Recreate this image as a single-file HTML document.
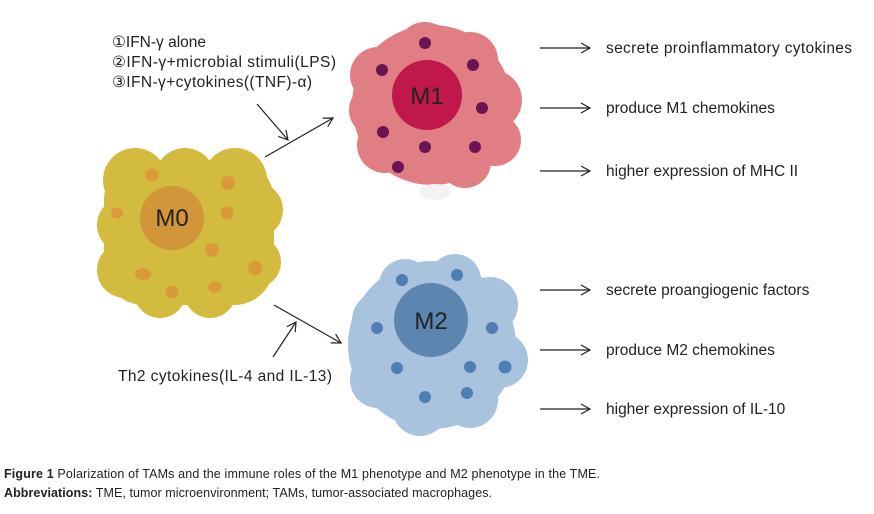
<!DOCTYPE html>
<html><head><meta charset="utf-8"><style>
body{margin:0;background:#fff;}
svg{display:block;font-family:"Liberation Sans",sans-serif;}
</style></head><body>
<svg width="874" height="514" viewBox="0 0 874 514" xmlns="http://www.w3.org/2000/svg">
<defs>
<marker id="a" markerWidth="12" markerHeight="12" refX="10" refY="6" orient="auto" markerUnits="userSpaceOnUse">
<path d="M1,1 L10,6 L1,11" fill="none" stroke="#222" stroke-width="1.2"/></marker>
</defs>
<!-- M0 -->
<g fill="#d3bb3f">
<rect x="104" y="160" width="170" height="145" rx="40"/>
<circle cx="135" cy="180" r="32"/><circle cx="185" cy="178" r="30"/><circle cx="235" cy="180" r="32"/>
<circle cx="255" cy="210" r="28"/><circle cx="125" cy="225" r="28"/><circle cx="125" cy="270" r="28"/>
<circle cx="255" cy="262" r="26"/><circle cx="160" cy="292" r="26"/><circle cx="210" cy="292" r="26"/>
</g>
<circle cx="172" cy="218" r="32" fill="#d1953a"/>
<g fill="#d99a3a">
<ellipse cx="152" cy="175" rx="7" ry="6.5"/><circle cx="228" cy="183" r="7"/><ellipse cx="117" cy="213" rx="6" ry="5.5"/>
<circle cx="227" cy="213" r="6.5"/><circle cx="212" cy="250" r="7"/><ellipse cx="143" cy="274" rx="8" ry="6"/>
<circle cx="255" cy="268" r="7"/><circle cx="172" cy="292" r="6.5"/><ellipse cx="215" cy="287" rx="7" ry="5.5"/>
</g>
<text x="172" y="226" font-size="24" text-anchor="middle" fill="#222">M0</text>
<!-- M1 -->
<g fill="#e07e83">
<circle cx="432" cy="105" r="80"/><circle cx="378" cy="75" r="28"/><circle cx="425" cy="50" r="28"/>
<circle cx="470" cy="60" r="28"/><circle cx="492" cy="100" r="30"/><circle cx="495" cy="140" r="26"/>
<circle cx="385" cy="145" r="28"/><circle cx="375" cy="110" r="26"/><circle cx="465" cy="162" r="26"/>
</g>
<ellipse cx="435" cy="192" rx="16" ry="8" fill="#f3f3f3"/>
<circle cx="427" cy="95" r="35" fill="#c0184b"/>
<g fill="#6c1352">
<circle cx="425" cy="43" r="6"/><circle cx="382" cy="70" r="6"/><circle cx="473" cy="65" r="6"/>
<circle cx="482" cy="108" r="6"/><circle cx="383" cy="132" r="6"/><circle cx="425" cy="147" r="6"/>
<circle cx="475" cy="147" r="6"/><circle cx="398" cy="167" r="6"/>
</g>
<text x="427" y="104" font-size="24" text-anchor="middle" fill="#222">M1</text>
<!-- M2 -->
<g fill="#a9c3de">
<circle cx="432" cy="345" r="84"/><circle cx="405" cy="285" r="26"/><circle cx="455" cy="280" r="26"/>
<circle cx="490" cy="305" r="28"/><circle cx="500" cy="360" r="28"/><circle cx="380" cy="320" r="28"/>
<circle cx="378" cy="380" r="28"/><circle cx="420" cy="408" r="28"/><circle cx="470" cy="400" r="28"/>
</g>
<circle cx="431" cy="320" r="37" fill="#5c85af"/>
<g fill="#4f7eb2">
<circle cx="402" cy="280" r="6"/><circle cx="457" cy="275" r="6"/><circle cx="377" cy="328" r="6"/>
<circle cx="492" cy="328" r="6"/><circle cx="397" cy="368" r="6"/><circle cx="470" cy="367" r="6"/>
<circle cx="505" cy="367" r="6.5"/><circle cx="425" cy="397" r="6"/><circle cx="467" cy="393" r="6"/>
</g>
<text x="431" y="329" font-size="24" text-anchor="middle" fill="#222">M2</text>
<!-- arrows -->
<g stroke="#222" stroke-width="1.2" fill="none" marker-end="url(#a)">
<line x1="265" y1="157" x2="333" y2="118"/>
<line x1="257" y1="104" x2="288" y2="140"/>
<line x1="274" y1="305" x2="341" y2="343"/>
<line x1="273" y1="357" x2="296" y2="322"/>
<line x1="540" y1="48" x2="590" y2="48"/>
<line x1="540" y1="108" x2="590" y2="108"/>
<line x1="540" y1="171" x2="590" y2="171"/>
<line x1="540" y1="290" x2="590" y2="290"/>
<line x1="540" y1="350" x2="590" y2="350"/>
<line x1="540" y1="409" x2="590" y2="409"/>
</g>
<g font-size="15.5" fill="#222">
<text x="112" y="47">①IFN-γ alone</text>
<text x="112" y="67" textLength="224">②IFN-γ+microbial stimuli(LPS)</text>
<text x="112" y="87" textLength="200">③IFN-γ+cytokines((TNF)-α)</text>
<text x="118" y="381" textLength="214">Th2 cytokines(IL-4 and IL-13)</text>
</g>
<g font-size="15.5" fill="#222">
<text x="606" y="53" textLength="246">secrete proinflammatory cytokines</text>
<text x="606" y="113">produce M1 chemokines</text>
<text x="606" y="176">higher expression of MHC II</text>
<text x="606" y="295">secrete proangiogenic factors</text>
<text x="606" y="355">produce M2 chemokines</text>
<text x="606" y="414">higher expression of IL-10</text>
</g>
<g font-size="12.5" fill="#222">
<text x="4" y="478" textLength="596"><tspan font-weight="bold">Figure 1</tspan> Polarization of TAMs and the immune roles of the M1 phenotype and M2 phenotype in the TME.</text>
<text x="4" y="497" textLength="488"><tspan font-weight="bold">Abbreviations:</tspan> TME, tumor microenvironment; TAMs, tumor-associated macrophages.</text>
</g>
</svg>
</body></html>
